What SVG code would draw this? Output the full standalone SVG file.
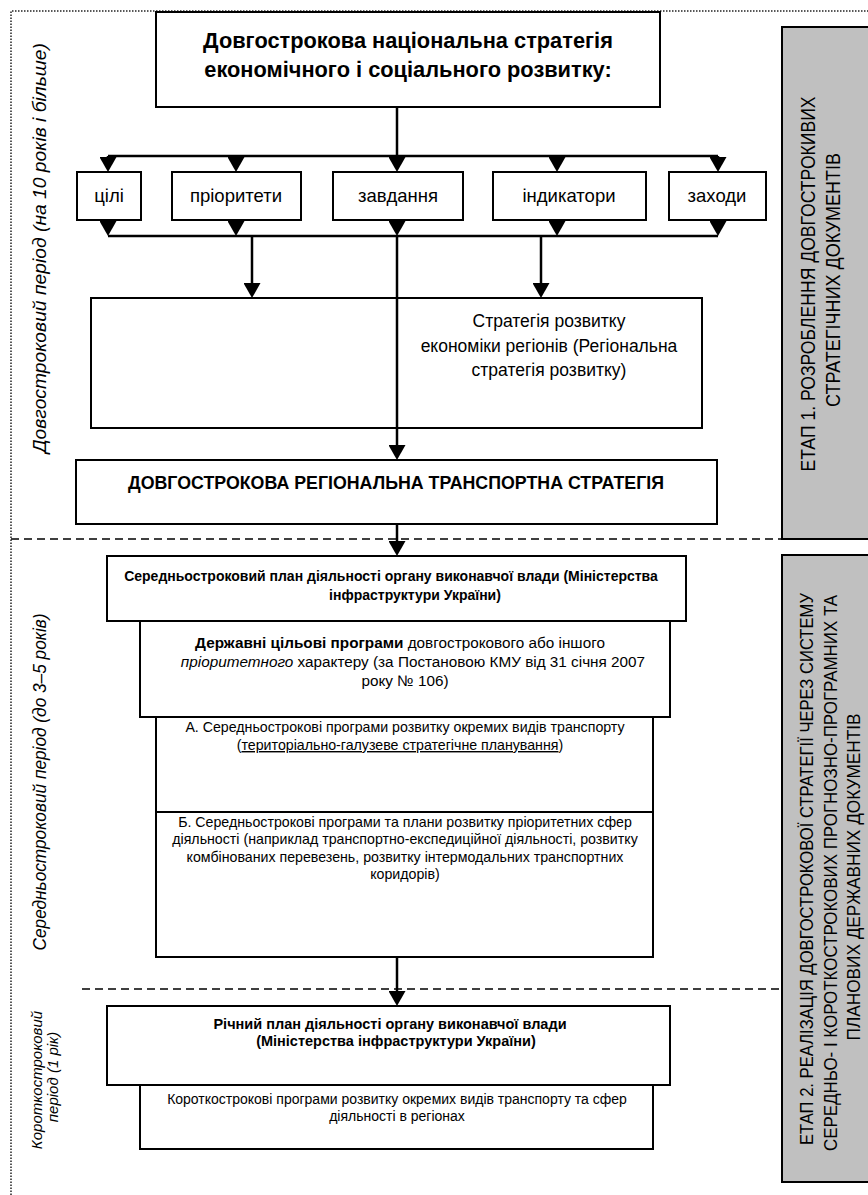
<svg xmlns="http://www.w3.org/2000/svg" width="868" height="1195" viewBox="0 0 868 1195">
  <style>
    text { font-family: "Liberation Sans", Arial, sans-serif; fill: #000; }
    .box { fill: #fff; stroke: #000; stroke-width: 2; }
    .stage { fill: #c0c0c0; stroke: #000; stroke-width: 2; }
    .wire { fill: none; stroke: #000; stroke-width: 2.5; }
    .arrow { fill: none; stroke: #000; stroke-width: 2.5; marker-end: url(#head); }
    .split { fill: none; stroke: #000; stroke-width: 1.6; stroke-dasharray: 8 5; }
    .frame { fill: none; stroke: #222; stroke-width: 1.5; stroke-dasharray: 1.5 1.5; }
    .c { text-anchor: middle; }
    .b { font-weight: bold; }
    .i { font-style: italic; }
  </style>
  <defs>
    <marker id="head" viewBox="0 0 15 17" refX="5" refY="8.5" markerWidth="15" markerHeight="17" markerUnits="userSpaceOnUse" orient="auto">
      <path d="M0,0 L15,8.5 L0,17 z" fill="#000"/>
    </marker>
  </defs>

  <rect width="868" height="1195" fill="#fff"/>

  <!-- dotted outer frame (top and left edges) -->
  <path class="frame" d="M11,1195 L11,11 L868,11"/>

  <!-- period separators -->
  <line class="split" x1="11" y1="539" x2="782" y2="539"/>
  <line class="split" x1="82" y1="989" x2="782" y2="989"/>

  <!-- period labels -->
  <g id="label-long">
    <text class="i c" font-size="18" textLength="410" lengthAdjust="spacingAndGlyphs" transform="translate(46,248) rotate(-90)">Довгостроковий період (на 10 років і більше)</text>
  </g>
  <g id="label-medium">
    <text class="i c" font-size="18" textLength="337" lengthAdjust="spacingAndGlyphs" transform="translate(46,782) rotate(-90)">Середньостроковий період (до 3–5 років)</text>
  </g>
  <g id="label-short">
    <text class="i c" font-size="15" transform="translate(42,1080) rotate(-90)">Короткостроковий</text>
    <text class="i c" font-size="15" transform="translate(58,1077) rotate(-90)">період (1 рік)</text>
  </g>

  <!-- stage panels -->
  <g id="stage-1">
    <rect class="stage" x="782" y="27" width="100" height="512"/>
    <text class="c" font-size="19.5" textLength="375" lengthAdjust="spacingAndGlyphs" transform="translate(815,284) rotate(-90)">ЕТАП 1. РОЗРОБЛЕННЯ ДОВГОСТРОКИВИХ</text>
    <text class="c" font-size="19.5" textLength="254" lengthAdjust="spacingAndGlyphs" transform="translate(840,280) rotate(-90)">СТРАТЕГІЧНИХ ДОКУМЕНТІВ</text>
  </g>
  <g id="stage-2">
    <rect class="stage" x="782" y="555" width="100" height="627"/>
    <text class="c" font-size="19" textLength="552" lengthAdjust="spacingAndGlyphs" transform="translate(813,869) rotate(-90)">ЕТАП 2. РЕАЛІЗАЦІЯ ДОВГОСТРОКОВОЇ СТРАТЕГІЇ ЧЕРЕЗ СИСТЕМУ</text>
    <text class="c" font-size="19" textLength="556" lengthAdjust="spacingAndGlyphs" transform="translate(837,873) rotate(-90)">СЕРЕДНЬО- І КОРОТКОСТРОКОВИХ ПРОГНОЗНО-ПРОГРАМНИХ ТА</text>
    <text class="c" font-size="19" textLength="327" lengthAdjust="spacingAndGlyphs" transform="translate(860,877) rotate(-90)">ПЛАНОВИХ ДЕРЖАВНИХ ДОКУМЕНТІВ</text>
  </g>

  <!-- national strategy -->
  <g id="national-strategy">
    <rect class="box" x="156" y="12" width="504" height="95"/>
    <text class="b c" font-size="21.8" x="408" y="48">Довгострокова національна стратегія</text>
    <text class="b c" font-size="21.8" x="408" y="77">економічного і соціального розвитку:</text>
  </g>

  <!-- strategy components -->
  <g id="goals">
    <rect class="box" x="77" y="172" width="64" height="48"/>
    <text class="c" font-size="18.5" x="109" y="202">цілі</text>
  </g>
  <g id="priorities">
    <rect class="box" x="172" y="172" width="129" height="48"/>
    <text class="c" font-size="18.5" x="236" y="202">пріоритети</text>
  </g>
  <g id="tasks">
    <rect class="box" x="333" y="172" width="130" height="48"/>
    <text class="c" font-size="18.5" x="398" y="202">завдання</text>
  </g>
  <g id="indicators">
    <rect class="box" x="493" y="172" width="153" height="48"/>
    <text class="c" font-size="18.5" x="569" y="202">індикатори</text>
  </g>
  <g id="measures">
    <rect class="box" x="669" y="172" width="97" height="48"/>
    <text class="c" font-size="18.5" x="717" y="202">заходи</text>
  </g>

  <!-- regional strategy -->
  <g id="regional-strategy">
    <rect class="box" x="91" y="298" width="611" height="130"/>
    <text class="c" font-size="17.5" x="549" y="327">Стратегія розвитку</text>
    <text class="c" font-size="17.5" x="549" y="352">економіки регіонів (Регіональна</text>
    <text class="c" font-size="17.5" x="549" y="376">стратегія розвитку)</text>
  </g>

  <!-- regional transport strategy -->
  <g id="transport-strategy">
    <rect class="box" x="76" y="460" width="641" height="64"/>
    <text class="b c" font-size="17.8" x="396" y="489">ДОВГОСТРОКОВА РЕГІОНАЛЬНА ТРАНСПОРТНА СТРАТЕГІЯ</text>
  </g>

  <!-- medium-term plan -->
  <g id="medium-plan">
    <rect class="box" x="107" y="556" width="579" height="65"/>
    <text class="b c" font-size="14" x="391" y="581">Середньостроковий план діяльності органу виконавчої влади (Міністерства</text>
    <text class="b c" font-size="14" x="415" y="600">інфраструктури України)</text>
  </g>

  <!-- state target programmes -->
  <g id="state-programmes">
    <rect class="box" x="140" y="621" width="530" height="96"/>
    <text class="c" font-size="15.3" x="400" y="648"><tspan class="b">Державні цільові програми</tspan> довгострокового або іншого</text>
    <text class="c" font-size="15.3" x="413" y="667"><tspan class="i">пріоритетного</tspan> характеру (за Постановою КМУ від 31 січня 2007</text>
    <text class="c" font-size="15.3" x="405" y="686">року № 106)</text>
  </g>

  <!-- programme A -->
  <g id="programme-a">
    <rect class="box" x="156" y="717" width="497" height="95"/>
    <text class="c" font-size="14.2" x="405" y="732">А. Середньострокові програми розвитку окремих видів транспорту</text>
    <text class="c" font-size="14.2" x="400" y="750">(<tspan text-decoration="underline">територіально-галузеве стратегічне планування</tspan>)</text>
  </g>

  <!-- programme B -->
  <g id="programme-b">
    <rect class="box" x="156" y="812" width="497" height="145"/>
    <text class="c" font-size="14.2" x="405" y="827">Б. Середньострокові програми та плани розвитку пріоритетних сфер</text>
    <text class="c" font-size="14.2" x="405" y="844">діяльності (наприклад транспортно-експедиційної діяльності, розвитку</text>
    <text class="c" font-size="14.2" x="405" y="862">комбінованих перевезень, розвитку інтермодальних транспортних</text>
    <text class="c" font-size="14.2" x="405" y="879">коридорів)</text>
  </g>

  <!-- annual plan -->
  <g id="annual-plan">
    <rect class="box" x="107" y="1006" width="563" height="79"/>
    <text class="b c" font-size="14.5" x="390" y="1029">Річний план діяльності органу виконавчої влади</text>
    <text class="b c" font-size="14.5" x="396" y="1046">(Міністерства інфраструктури України)</text>
  </g>

  <!-- short-term programmes -->
  <g id="short-programmes">
    <rect class="box" x="140" y="1085" width="513" height="64"/>
    <text class="c" font-size="14" x="397" y="1104">Короткострокові програми розвитку окремих видів транспорту та сфер</text>
    <text class="c" font-size="14" x="397" y="1121">діяльності в регіонах</text>
  </g>

  <!-- connectors -->
  <g id="connectors">
    <line class="wire" x1="397" y1="107" x2="397" y2="156"/>
    <line class="wire" x1="108" y1="156" x2="718" y2="156"/>
    <line class="arrow" x1="108" y1="156" x2="108" y2="162"/>
    <line class="arrow" x1="236" y1="156" x2="236" y2="162"/>
    <line class="arrow" x1="397" y1="156" x2="397" y2="162"/>
    <line class="arrow" x1="557" y1="156" x2="557" y2="162"/>
    <line class="arrow" x1="718" y1="156" x2="718" y2="162"/>

    <line class="arrow" x1="108" y1="220" x2="108" y2="226"/>
    <line class="arrow" x1="236" y1="220" x2="236" y2="226"/>
    <line class="arrow" x1="397" y1="220" x2="397" y2="226"/>
    <line class="arrow" x1="557" y1="220" x2="557" y2="226"/>
    <line class="arrow" x1="718" y1="220" x2="718" y2="226"/>
    <line class="wire" x1="108" y1="236" x2="718" y2="236"/>

    <line class="arrow" x1="252" y1="236" x2="252" y2="288"/>
    <line class="arrow" x1="541" y1="236" x2="541" y2="288"/>
    <line class="arrow" x1="397" y1="236" x2="397" y2="450"/>
    <line class="arrow" x1="397" y1="524" x2="397" y2="546"/>
    <line class="arrow" x1="397" y1="957" x2="397" y2="996"/>
  </g>
</svg>
